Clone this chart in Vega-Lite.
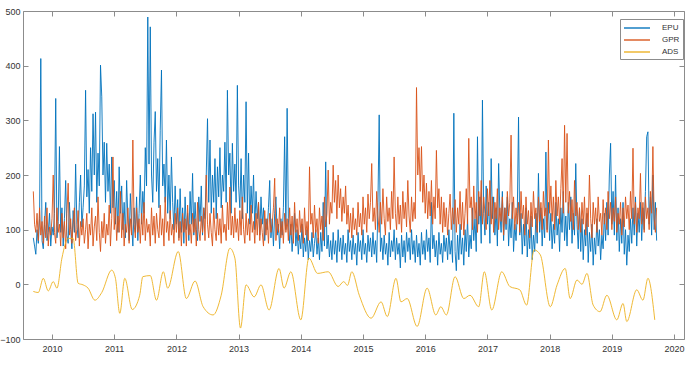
{
  "$schema": "https://vega.github.io/schema/vega-lite/v6.json",
  "autosize": "none",
  "width": 661,
  "height": 328,
  "padding": {"left": 23, "top": 11, "right": 13, "bottom": 26},
  "background": "white",
  "config": {
    "view": {"stroke": "#8c8c8c", "strokeWidth": 1},
    "font": "Liberation Sans",
    "axis": {"domain": false, "grid": false, "tickColor": "#8c8c8c", "tickSize": -5, "labelFont": "Liberation Sans", "labelFontSize": 9, "labelColor": "#333333", "title": null}
  },
  "datasets": {
    "idx": [
      {"t":2009.70,"EPU":85,"GPR":170},{"t":2009.72,"EPU":70,"GPR":110},{"t":2009.74,"EPU":55,"GPR":95},{"t":2009.76,"EPU":100,"GPR":130},{"t":2009.78,"EPU":75,"GPR":80},
      {"t":2009.80,"EPU":120,"GPR":140},{"t":2009.82,"EPU":413,"GPR":90},{"t":2009.84,"EPU":80,"GPR":115},{"t":2009.86,"EPU":65,"GPR":75},{"t":2009.88,"EPU":110,"GPR":125},
      {"t":2009.90,"EPU":150,"GPR":85},{"t":2009.92,"EPU":80,"GPR":140},{"t":2009.94,"EPU":95,"GPR":70},{"t":2009.96,"EPU":130,"GPR":105},{"t":2009.98,"EPU":70,"GPR":90},
      {"t":2010.00,"EPU":105,"GPR":120},{"t":2010.02,"EPU":90,"GPR":200},{"t":2010.04,"EPU":130,"GPR":95},{"t":2010.06,"EPU":340,"GPR":75},{"t":2010.08,"EPU":85,"GPR":140},
      {"t":2010.10,"EPU":115,"GPR":95},{"t":2010.12,"EPU":252,"GPR":110},{"t":2010.14,"EPU":95,"GPR":70},{"t":2010.16,"EPU":140,"GPR":130},{"t":2010.18,"EPU":70,"GPR":85},
      {"t":2010.20,"EPU":120,"GPR":115},{"t":2010.22,"EPU":190,"GPR":65},{"t":2010.24,"EPU":90,"GPR":130},{"t":2010.26,"EPU":75,"GPR":185},{"t":2010.28,"EPU":150,"GPR":90},
      {"t":2010.30,"EPU":100,"GPR":120},{"t":2010.32,"EPU":65,"GPR":75},{"t":2010.34,"EPU":135,"GPR":110},{"t":2010.36,"EPU":95,"GPR":140},{"t":2010.38,"EPU":220,"GPR":80},
      {"t":2010.40,"EPU":110,"GPR":100},{"t":2010.42,"EPU":85,"GPR":135},{"t":2010.44,"EPU":150,"GPR":70},{"t":2010.46,"EPU":200,"GPR":115},{"t":2010.48,"EPU":105,"GPR":90},
      {"t":2010.50,"EPU":140,"GPR":120},{"t":2010.52,"EPU":180,"GPR":75},{"t":2010.54,"EPU":355,"GPR":100},{"t":2010.56,"EPU":160,"GPR":130},{"t":2010.58,"EPU":210,"GPR":65},
      {"t":2010.60,"EPU":130,"GPR":110},{"t":2010.62,"EPU":250,"GPR":90},{"t":2010.64,"EPU":170,"GPR":140},{"t":2010.66,"EPU":312,"GPR":70},{"t":2010.68,"EPU":200,"GPR":105},
      {"t":2010.70,"EPU":315,"GPR":125},{"t":2010.72,"EPU":150,"GPR":80},{"t":2010.74,"EPU":240,"GPR":160},{"t":2010.76,"EPU":180,"GPR":95},{"t":2010.78,"EPU":401,"GPR":60},
      {"t":2010.80,"EPU":343,"GPR":115},{"t":2010.82,"EPU":200,"GPR":85},{"t":2010.84,"EPU":260,"GPR":130},{"t":2010.86,"EPU":150,"GPR":75},{"t":2010.88,"EPU":258,"GPR":110},
      {"t":2010.90,"EPU":170,"GPR":90},{"t":2010.92,"EPU":220,"GPR":145},{"t":2010.94,"EPU":130,"GPR":70},{"t":2010.96,"EPU":233,"GPR":120},{"t":2010.98,"EPU":140,"GPR":233},
      {"t":2011.00,"EPU":190,"GPR":100},{"t":2011.02,"EPU":110,"GPR":140},{"t":2011.04,"EPU":170,"GPR":80},{"t":2011.06,"EPU":95,"GPR":125},{"t":2011.08,"EPU":215,"GPR":95},
      {"t":2011.10,"EPU":130,"GPR":170},{"t":2011.12,"EPU":180,"GPR":85},{"t":2011.14,"EPU":100,"GPR":130},{"t":2011.16,"EPU":150,"GPR":70},{"t":2011.18,"EPU":85,"GPR":110},
      {"t":2011.20,"EPU":190,"GPR":95},{"t":2011.22,"EPU":120,"GPR":140},{"t":2011.24,"EPU":80,"GPR":75},{"t":2011.26,"EPU":166,"GPR":120},{"t":2011.28,"EPU":110,"GPR":90},
      {"t":2011.30,"EPU":70,"GPR":264},{"t":2011.32,"EPU":140,"GPR":110},{"t":2011.34,"EPU":95,"GPR":85},{"t":2011.36,"EPU":160,"GPR":140},{"t":2011.38,"EPU":80,"GPR":95},
      {"t":2011.40,"EPU":130,"GPR":120},{"t":2011.42,"EPU":200,"GPR":75},{"t":2011.44,"EPU":110,"GPR":130},{"t":2011.46,"EPU":170,"GPR":90},{"t":2011.48,"EPU":130,"GPR":150},
      {"t":2011.50,"EPU":250,"GPR":80},{"t":2011.52,"EPU":180,"GPR":120},{"t":2011.54,"EPU":489,"GPR":95},{"t":2011.56,"EPU":220,"GPR":110},{"t":2011.58,"EPU":471,"GPR":70},
      {"t":2011.60,"EPU":200,"GPR":140},{"t":2011.62,"EPU":150,"GPR":90},{"t":2011.64,"EPU":260,"GPR":125},{"t":2011.66,"EPU":316,"GPR":75},{"t":2011.68,"EPU":170,"GPR":130},
      {"t":2011.70,"EPU":230,"GPR":100},{"t":2011.72,"EPU":140,"GPR":85},{"t":2011.74,"EPU":282,"GPR":145},{"t":2011.76,"EPU":392,"GPR":90},{"t":2011.78,"EPU":180,"GPR":120},
      {"t":2011.80,"EPU":220,"GPR":70},{"t":2011.82,"EPU":150,"GPR":160},{"t":2011.84,"EPU":264,"GPR":95},{"t":2011.86,"EPU":130,"GPR":115},{"t":2011.88,"EPU":200,"GPR":80},
      {"t":2011.90,"EPU":120,"GPR":135},{"t":2011.92,"EPU":233,"GPR":90},{"t":2011.94,"EPU":150,"GPR":110},{"t":2011.96,"EPU":100,"GPR":75},{"t":2011.98,"EPU":180,"GPR":130},
      {"t":2012.00,"EPU":110,"GPR":95},{"t":2012.02,"EPU":155,"GPR":140},{"t":2012.04,"EPU":85,"GPR":80},{"t":2012.06,"EPU":175,"GPR":115},{"t":2012.08,"EPU":95,"GPR":70},
      {"t":2012.10,"EPU":140,"GPR":130},{"t":2012.12,"EPU":75,"GPR":95},{"t":2012.14,"EPU":160,"GPR":120},{"t":2012.16,"EPU":100,"GPR":70},{"t":2012.18,"EPU":130,"GPR":145},
      {"t":2012.20,"EPU":80,"GPR":90},{"t":2012.22,"EPU":170,"GPR":110},{"t":2012.24,"EPU":110,"GPR":75},{"t":2012.26,"EPU":203,"GPR":130},{"t":2012.28,"EPU":90,"GPR":95},
      {"t":2012.30,"EPU":150,"GPR":120},{"t":2012.32,"EPU":100,"GPR":70},{"t":2012.34,"EPU":80,"GPR":150},{"t":2012.36,"EPU":160,"GPR":100},{"t":2012.38,"EPU":115,"GPR":80},
      {"t":2012.40,"EPU":180,"GPR":125},{"t":2012.42,"EPU":90,"GPR":95},{"t":2012.44,"EPU":140,"GPR":140},{"t":2012.46,"EPU":120,"GPR":80},{"t":2012.48,"EPU":200,"GPR":200},
      {"t":2012.50,"EPU":303,"GPR":110},{"t":2012.52,"EPU":150,"GPR":85},{"t":2012.54,"EPU":264,"GPR":130},{"t":2012.56,"EPU":130,"GPR":95},{"t":2012.58,"EPU":200,"GPR":70},
      {"t":2012.60,"EPU":150,"GPR":140},{"t":2012.62,"EPU":230,"GPR":100},{"t":2012.64,"EPU":120,"GPR":80},{"t":2012.66,"EPU":215,"GPR":130},{"t":2012.68,"EPU":160,"GPR":90},
      {"t":2012.70,"EPU":250,"GPR":120},{"t":2012.72,"EPU":140,"GPR":75},{"t":2012.74,"EPU":200,"GPR":145},{"t":2012.76,"EPU":170,"GPR":95},{"t":2012.78,"EPU":260,"GPR":110},
      {"t":2012.80,"EPU":150,"GPR":80},{"t":2012.82,"EPU":355,"GPR":150},{"t":2012.84,"EPU":200,"GPR":100},{"t":2012.86,"EPU":240,"GPR":178},{"t":2012.88,"EPU":130,"GPR":90},
      {"t":2012.90,"EPU":258,"GPR":125},{"t":2012.92,"EPU":170,"GPR":85},{"t":2012.94,"EPU":220,"GPR":140},{"t":2012.96,"EPU":150,"GPR":95},{"t":2012.98,"EPU":364,"GPR":120},
      {"t":2013.00,"EPU":180,"GPR":80},{"t":2013.02,"EPU":140,"GPR":135},{"t":2013.04,"EPU":230,"GPR":90},{"t":2013.06,"EPU":120,"GPR":160},{"t":2013.08,"EPU":200,"GPR":100},
      {"t":2013.10,"EPU":150,"GPR":75},{"t":2013.12,"EPU":334,"GPR":130},{"t":2013.14,"EPU":130,"GPR":90},{"t":2013.16,"EPU":240,"GPR":120},{"t":2013.18,"EPU":110,"GPR":80},
      {"t":2013.20,"EPU":180,"GPR":145},{"t":2013.22,"EPU":130,"GPR":95},{"t":2013.24,"EPU":200,"GPR":115},{"t":2013.26,"EPU":100,"GPR":75},{"t":2013.28,"EPU":170,"GPR":130},
      {"t":2013.30,"EPU":120,"GPR":90},{"t":2013.32,"EPU":150,"GPR":150},{"t":2013.34,"EPU":90,"GPR":80},{"t":2013.36,"EPU":160,"GPR":120},{"t":2013.38,"EPU":110,"GPR":95},
      {"t":2013.40,"EPU":140,"GPR":70},{"t":2013.42,"EPU":80,"GPR":135},{"t":2013.44,"EPU":120,"GPR":90},{"t":2013.46,"EPU":100,"GPR":120},{"t":2013.48,"EPU":140,"GPR":75},
      {"t":2013.50,"EPU":190,"GPR":130},{"t":2013.52,"EPU":85,"GPR":95},{"t":2013.54,"EPU":120,"GPR":110},{"t":2013.56,"EPU":70,"GPR":140},{"t":2013.58,"EPU":130,"GPR":194},
      {"t":2013.60,"EPU":160,"GPR":80},{"t":2013.62,"EPU":90,"GPR":120},{"t":2013.64,"EPU":110,"GPR":95},{"t":2013.66,"EPU":65,"GPR":140},{"t":2013.68,"EPU":120,"GPR":85},
      {"t":2013.70,"EPU":90,"GPR":115},{"t":2013.72,"EPU":140,"GPR":75},{"t":2013.74,"EPU":270,"GPR":130},{"t":2013.76,"EPU":100,"GPR":95},{"t":2013.78,"EPU":322,"GPR":120},
      {"t":2013.80,"EPU":120,"GPR":80},{"t":2013.82,"EPU":75,"GPR":140},{"t":2013.84,"EPU":110,"GPR":90},{"t":2013.86,"EPU":60,"GPR":125},{"t":2013.88,"EPU":95,"GPR":75},
      {"t":2013.90,"EPU":130,"GPR":150},{"t":2013.92,"EPU":70,"GPR":95},{"t":2013.94,"EPU":100,"GPR":120},{"t":2013.96,"EPU":55,"GPR":80},{"t":2013.98,"EPU":90,"GPR":135},
      {"t":2014.00,"EPU":65,"GPR":95},{"t":2014.02,"EPU":110,"GPR":120},{"t":2014.04,"EPU":50,"GPR":75},{"t":2014.06,"EPU":85,"GPR":140},{"t":2014.08,"EPU":60,"GPR":90},
      {"t":2014.10,"EPU":100,"GPR":115},{"t":2014.12,"EPU":45,"GPR":80},{"t":2014.14,"EPU":80,"GPR":215},{"t":2014.16,"EPU":60,"GPR":110},{"t":2014.18,"EPU":95,"GPR":130},
      {"t":2014.20,"EPU":50,"GPR":85},{"t":2014.22,"EPU":75,"GPR":145},{"t":2014.24,"EPU":100,"GPR":95},{"t":2014.26,"EPU":55,"GPR":120},{"t":2014.28,"EPU":85,"GPR":75},
      {"t":2014.30,"EPU":45,"GPR":140},{"t":2014.32,"EPU":95,"GPR":100},{"t":2014.34,"EPU":60,"GPR":125},{"t":2014.36,"EPU":150,"GPR":80},{"t":2014.38,"EPU":70,"GPR":160},
      {"t":2014.40,"EPU":224,"GPR":105},{"t":2014.42,"EPU":65,"GPR":130},{"t":2014.44,"EPU":90,"GPR":209},{"t":2014.46,"EPU":50,"GPR":110},{"t":2014.48,"EPU":80,"GPR":150},
      {"t":2014.50,"EPU":45,"GPR":130},{"t":2014.52,"EPU":95,"GPR":218},{"t":2014.54,"EPU":55,"GPR":150},{"t":2014.56,"EPU":80,"GPR":190},{"t":2014.58,"EPU":40,"GPR":120},
      {"t":2014.60,"EPU":100,"GPR":200},{"t":2014.62,"EPU":60,"GPR":140},{"t":2014.64,"EPU":85,"GPR":175},{"t":2014.66,"EPU":45,"GPR":115},{"t":2014.68,"EPU":90,"GPR":160},
      {"t":2014.70,"EPU":55,"GPR":130},{"t":2014.72,"EPU":75,"GPR":180},{"t":2014.74,"EPU":40,"GPR":110},{"t":2014.76,"EPU":100,"GPR":145},{"t":2014.78,"EPU":60,"GPR":95},
      {"t":2014.80,"EPU":80,"GPR":130},{"t":2014.82,"EPU":45,"GPR":85},{"t":2014.84,"EPU":90,"GPR":140},{"t":2014.86,"EPU":55,"GPR":100},{"t":2014.88,"EPU":75,"GPR":120},
      {"t":2014.90,"EPU":35,"GPR":90},{"t":2014.92,"EPU":95,"GPR":150},{"t":2014.94,"EPU":60,"GPR":105},{"t":2014.96,"EPU":80,"GPR":130},{"t":2014.98,"EPU":45,"GPR":90},
      {"t":2015.00,"EPU":100,"GPR":160},{"t":2015.02,"EPU":55,"GPR":110},{"t":2015.04,"EPU":75,"GPR":140},{"t":2015.06,"EPU":40,"GPR":95},{"t":2015.08,"EPU":90,"GPR":165},
      {"t":2015.10,"EPU":60,"GPR":120},{"t":2015.12,"EPU":85,"GPR":150},{"t":2015.14,"EPU":50,"GPR":221},{"t":2015.16,"EPU":95,"GPR":115},{"t":2015.18,"EPU":55,"GPR":140},
      {"t":2015.20,"EPU":80,"GPR":100},{"t":2015.22,"EPU":40,"GPR":170},{"t":2015.24,"EPU":150,"GPR":125},{"t":2015.26,"EPU":310,"GPR":95},{"t":2015.28,"EPU":60,"GPR":150},
      {"t":2015.30,"EPU":85,"GPR":110},{"t":2015.32,"EPU":45,"GPR":175},{"t":2015.34,"EPU":90,"GPR":120},{"t":2015.36,"EPU":55,"GPR":90},{"t":2015.38,"EPU":75,"GPR":160},
      {"t":2015.40,"EPU":35,"GPR":115},{"t":2015.42,"EPU":95,"GPR":140},{"t":2015.44,"EPU":50,"GPR":100},{"t":2015.46,"EPU":80,"GPR":170},{"t":2015.48,"EPU":60,"GPR":120},
      {"t":2015.50,"EPU":100,"GPR":233},{"t":2015.52,"EPU":45,"GPR":130},{"t":2015.54,"EPU":85,"GPR":100},{"t":2015.56,"EPU":55,"GPR":160},{"t":2015.58,"EPU":75,"GPR":110},
      {"t":2015.60,"EPU":30,"GPR":145},{"t":2015.62,"EPU":90,"GPR":95},{"t":2015.64,"EPU":50,"GPR":170},{"t":2015.66,"EPU":80,"GPR":120},{"t":2015.68,"EPU":40,"GPR":150},
      {"t":2015.70,"EPU":95,"GPR":105},{"t":2015.72,"EPU":60,"GPR":190},{"t":2015.74,"EPU":85,"GPR":125},{"t":2015.76,"EPU":45,"GPR":95},{"t":2015.78,"EPU":100,"GPR":160},
      {"t":2015.80,"EPU":55,"GPR":115},{"t":2015.82,"EPU":80,"GPR":150},{"t":2015.84,"EPU":40,"GPR":120},{"t":2015.86,"EPU":90,"GPR":360},{"t":2015.88,"EPU":50,"GPR":200},
      {"t":2015.90,"EPU":75,"GPR":250},{"t":2015.92,"EPU":35,"GPR":170},{"t":2015.94,"EPU":95,"GPR":252},{"t":2015.96,"EPU":55,"GPR":150},{"t":2015.98,"EPU":80,"GPR":200},
      {"t":2016.00,"EPU":45,"GPR":130},{"t":2016.02,"EPU":100,"GPR":185},{"t":2016.04,"EPU":60,"GPR":120},{"t":2016.06,"EPU":85,"GPR":170},{"t":2016.08,"EPU":40,"GPR":125},
      {"t":2016.10,"EPU":150,"GPR":190},{"t":2016.12,"EPU":65,"GPR":110},{"t":2016.14,"EPU":90,"GPR":160},{"t":2016.16,"EPU":50,"GPR":120},{"t":2016.18,"EPU":80,"GPR":245},
      {"t":2016.20,"EPU":35,"GPR":140},{"t":2016.22,"EPU":95,"GPR":175},{"t":2016.24,"EPU":55,"GPR":110},{"t":2016.26,"EPU":75,"GPR":160},{"t":2016.28,"EPU":40,"GPR":95},
      {"t":2016.30,"EPU":90,"GPR":150},{"t":2016.32,"EPU":60,"GPR":105},{"t":2016.34,"EPU":85,"GPR":140},{"t":2016.36,"EPU":45,"GPR":90},{"t":2016.38,"EPU":100,"GPR":130},
      {"t":2016.40,"EPU":55,"GPR":165},{"t":2016.42,"EPU":80,"GPR":100},{"t":2016.44,"EPU":40,"GPR":140},{"t":2016.46,"EPU":313,"GPR":110},{"t":2016.48,"EPU":60,"GPR":155},
      {"t":2016.50,"EPU":25,"GPR":95},{"t":2016.52,"EPU":90,"GPR":140},{"t":2016.54,"EPU":45,"GPR":110},{"t":2016.56,"EPU":110,"GPR":170},{"t":2016.58,"EPU":55,"GPR":100},
      {"t":2016.60,"EPU":85,"GPR":150},{"t":2016.62,"EPU":35,"GPR":90},{"t":2016.64,"EPU":100,"GPR":130},{"t":2016.66,"EPU":60,"GPR":175},{"t":2016.68,"EPU":120,"GPR":110},
      {"t":2016.70,"EPU":50,"GPR":267},{"t":2016.72,"EPU":90,"GPR":140},{"t":2016.74,"EPU":65,"GPR":160},{"t":2016.76,"EPU":140,"GPR":100},{"t":2016.78,"EPU":80,"GPR":180},
      {"t":2016.80,"EPU":120,"GPR":120},{"t":2016.82,"EPU":60,"GPR":150},{"t":2016.84,"EPU":270,"GPR":95},{"t":2016.86,"EPU":110,"GPR":170},{"t":2016.88,"EPU":160,"GPR":125},
      {"t":2016.90,"EPU":75,"GPR":190},{"t":2016.92,"EPU":337,"GPR":110},{"t":2016.94,"EPU":130,"GPR":160},{"t":2016.96,"EPU":90,"GPR":130},{"t":2016.98,"EPU":180,"GPR":100},
      {"t":2017.00,"EPU":110,"GPR":175},{"t":2017.02,"EPU":150,"GPR":125},{"t":2017.04,"EPU":75,"GPR":190},{"t":2017.06,"EPU":230,"GPR":110},{"t":2017.08,"EPU":120,"GPR":160},
      {"t":2017.10,"EPU":160,"GPR":95},{"t":2017.12,"EPU":90,"GPR":150},{"t":2017.14,"EPU":140,"GPR":120},{"t":2017.16,"EPU":70,"GPR":175},{"t":2017.18,"EPU":221,"GPR":100},
      {"t":2017.20,"EPU":130,"GPR":140},{"t":2017.22,"EPU":95,"GPR":115},{"t":2017.24,"EPU":170,"GPR":160},{"t":2017.26,"EPU":80,"GPR":90},{"t":2017.28,"EPU":140,"GPR":140},
      {"t":2017.30,"EPU":100,"GPR":110},{"t":2017.32,"EPU":160,"GPR":170},{"t":2017.34,"EPU":70,"GPR":125},{"t":2017.36,"EPU":120,"GPR":150},{"t":2017.38,"EPU":85,"GPR":273},
      {"t":2017.40,"EPU":150,"GPR":120},{"t":2017.42,"EPU":60,"GPR":160},{"t":2017.44,"EPU":110,"GPR":100},{"t":2017.46,"EPU":80,"GPR":140},{"t":2017.48,"EPU":130,"GPR":110},
      {"t":2017.50,"EPU":306,"GPR":150},{"t":2017.52,"EPU":90,"GPR":95},{"t":2017.54,"EPU":130,"GPR":170},{"t":2017.56,"EPU":55,"GPR":120},{"t":2017.58,"EPU":110,"GPR":145},
      {"t":2017.60,"EPU":70,"GPR":90},{"t":2017.62,"EPU":140,"GPR":160},{"t":2017.64,"EPU":50,"GPR":110},{"t":2017.66,"EPU":100,"GPR":135},{"t":2017.68,"EPU":65,"GPR":85},
      {"t":2017.70,"EPU":125,"GPR":150},{"t":2017.72,"EPU":45,"GPR":105},{"t":2017.74,"EPU":90,"GPR":170},{"t":2017.76,"EPU":60,"GPR":120},{"t":2017.78,"EPU":130,"GPR":140},
      {"t":2017.80,"EPU":75,"GPR":95},{"t":2017.82,"EPU":203,"GPR":160},{"t":2017.84,"EPU":95,"GPR":115},{"t":2017.86,"EPU":140,"GPR":150},{"t":2017.88,"EPU":70,"GPR":100},
      {"t":2017.90,"EPU":120,"GPR":170},{"t":2017.92,"EPU":85,"GPR":125},{"t":2017.94,"EPU":242,"GPR":140},{"t":2017.96,"EPU":100,"GPR":95},{"t":2017.98,"EPU":150,"GPR":264},
      {"t":2018.00,"EPU":80,"GPR":130},{"t":2018.02,"EPU":130,"GPR":180},{"t":2018.04,"EPU":65,"GPR":115},{"t":2018.06,"EPU":110,"GPR":160},{"t":2018.08,"EPU":75,"GPR":100},
      {"t":2018.10,"EPU":150,"GPR":190},{"t":2018.12,"EPU":90,"GPR":125},{"t":2018.14,"EPU":120,"GPR":160},{"t":2018.16,"EPU":60,"GPR":110},{"t":2018.18,"EPU":140,"GPR":175},
      {"t":2018.20,"EPU":95,"GPR":230},{"t":2018.22,"EPU":170,"GPR":130},{"t":2018.24,"EPU":80,"GPR":291},{"t":2018.26,"EPU":125,"GPR":150},{"t":2018.28,"EPU":70,"GPR":276},
      {"t":2018.30,"EPU":150,"GPR":130},{"t":2018.32,"EPU":100,"GPR":170},{"t":2018.34,"EPU":160,"GPR":115},{"t":2018.36,"EPU":75,"GPR":155},{"t":2018.38,"EPU":130,"GPR":100},
      {"t":2018.40,"EPU":90,"GPR":190},{"t":2018.42,"EPU":221,"GPR":125},{"t":2018.44,"EPU":110,"GPR":150},{"t":2018.46,"EPU":65,"GPR":100},{"t":2018.48,"EPU":140,"GPR":140},
      {"t":2018.50,"EPU":60,"GPR":95},{"t":2018.52,"EPU":120,"GPR":150},{"t":2018.54,"EPU":45,"GPR":110},{"t":2018.56,"EPU":100,"GPR":160},{"t":2018.58,"EPU":70,"GPR":90},
      {"t":2018.60,"EPU":130,"GPR":140},{"t":2018.62,"EPU":40,"GPR":105},{"t":2018.64,"EPU":95,"GPR":200},{"t":2018.66,"EPU":60,"GPR":120},{"t":2018.68,"EPU":110,"GPR":85},
      {"t":2018.70,"EPU":35,"GPR":150},{"t":2018.72,"EPU":85,"GPR":110},{"t":2018.74,"EPU":55,"GPR":140},{"t":2018.76,"EPU":120,"GPR":95},{"t":2018.78,"EPU":70,"GPR":160},
      {"t":2018.80,"EPU":100,"GPR":115},{"t":2018.82,"EPU":45,"GPR":130},{"t":2018.84,"EPU":90,"GPR":90},{"t":2018.86,"EPU":65,"GPR":155},{"t":2018.88,"EPU":130,"GPR":110},
      {"t":2018.90,"EPU":80,"GPR":140},{"t":2018.92,"EPU":150,"GPR":100},{"t":2018.94,"EPU":90,"GPR":170},{"t":2018.96,"EPU":200,"GPR":120},{"t":2018.98,"EPU":258,"GPR":150},
      {"t":2019.00,"EPU":110,"GPR":100},{"t":2019.02,"EPU":170,"GPR":140},{"t":2019.04,"EPU":90,"GPR":115},{"t":2019.06,"EPU":200,"GPR":160},{"t":2019.08,"EPU":80,"GPR":95},
      {"t":2019.10,"EPU":140,"GPR":130},{"t":2019.12,"EPU":60,"GPR":110},{"t":2019.14,"EPU":120,"GPR":150},{"t":2019.16,"EPU":75,"GPR":90},{"t":2019.18,"EPU":150,"GPR":140},
      {"t":2019.20,"EPU":55,"GPR":105},{"t":2019.22,"EPU":100,"GPR":160},{"t":2019.24,"EPU":35,"GPR":120},{"t":2019.26,"EPU":90,"GPR":145},{"t":2019.28,"EPU":60,"GPR":100},
      {"t":2019.30,"EPU":120,"GPR":170},{"t":2019.32,"EPU":75,"GPR":120},{"t":2019.34,"EPU":140,"GPR":249},{"t":2019.36,"EPU":90,"GPR":110},{"t":2019.38,"EPU":160,"GPR":150},
      {"t":2019.40,"EPU":70,"GPR":95},{"t":2019.42,"EPU":130,"GPR":140},{"t":2019.44,"EPU":95,"GPR":120},{"t":2019.46,"EPU":150,"GPR":203},{"t":2019.48,"EPU":80,"GPR":110},
      {"t":2019.50,"EPU":140,"GPR":150},{"t":2019.52,"EPU":100,"GPR":95},{"t":2019.54,"EPU":170,"GPR":160},{"t":2019.56,"EPU":270,"GPR":120},{"t":2019.58,"EPU":279,"GPR":140},
      {"t":2019.60,"EPU":110,"GPR":100},{"t":2019.62,"EPU":160,"GPR":170},{"t":2019.64,"EPU":90,"GPR":130},{"t":2019.66,"EPU":200,"GPR":252},{"t":2019.68,"EPU":100,"GPR":120},
      {"t":2019.70,"EPU":150,"GPR":95},{"t":2019.72,"EPU":80,"GPR":140}
    ],
    "ads": [
      {"t":2009.70,"ADS":-13},{"t":2009.78,"ADS":-15},{"t":2009.86,"ADS":11},{"t":2009.94,"ADS":-12},{"t":2010.02,"ADS":5},{"t":2010.08,"ADS":-7},
      {"t":2010.16,"ADS":48},{"t":2010.26,"ADS":84},{"t":2010.34,"ADS":84},{"t":2010.42,"ADS":2},{"t":2010.50,"ADS":-1},{"t":2010.58,"ADS":-7},
      {"t":2010.69,"ADS":-29},{"t":2010.80,"ADS":-15},{"t":2010.96,"ADS":26},{"t":2011.02,"ADS":11},{"t":2011.09,"ADS":-53},{"t":2011.17,"ADS":11},
      {"t":2011.29,"ADS":-46},{"t":2011.41,"ADS":-20},{"t":2011.46,"ADS":14},{"t":2011.58,"ADS":16},{"t":2011.68,"ADS":-29},{"t":2011.79,"ADS":23},
      {"t":2011.86,"ADS":-7},{"t":2012.03,"ADS":60},{"t":2012.16,"ADS":-26},{"t":2012.30,"ADS":6},{"t":2012.43,"ADS":-41},{"t":2012.59,"ADS":-56},
      {"t":2012.72,"ADS":-20},{"t":2012.86,"ADS":66},{"t":2012.94,"ADS":48},{"t":2013.03,"ADS":-80},{"t":2013.12,"ADS":-1},{"t":2013.25,"ADS":-23},
      {"t":2013.36,"ADS":-1},{"t":2013.49,"ADS":-47},{"t":2013.65,"ADS":29},{"t":2013.73,"ADS":-7},{"t":2013.84,"ADS":23},{"t":2014.00,"ADS":-65},
      {"t":2014.13,"ADS":48},{"t":2014.27,"ADS":20},{"t":2014.44,"ADS":23},{"t":2014.60,"ADS":-4},{"t":2014.69,"ADS":5},{"t":2014.75,"ADS":-2},
      {"t":2014.82,"ADS":23},{"t":2014.94,"ADS":-20},{"t":2015.13,"ADS":-62},{"t":2015.29,"ADS":-32},{"t":2015.39,"ADS":-59},{"t":2015.53,"ADS":11},
      {"t":2015.61,"ADS":-32},{"t":2015.71,"ADS":-26},{"t":2015.87,"ADS":-77},{"t":2016.03,"ADS":-7},{"t":2016.17,"ADS":-56},{"t":2016.25,"ADS":-41},
      {"t":2016.34,"ADS":-56},{"t":2016.48,"ADS":14},{"t":2016.62,"ADS":-26},{"t":2016.72,"ADS":-20},{"t":2016.86,"ADS":-41},{"t":2016.95,"ADS":23},
      {"t":2017.07,"ADS":-47},{"t":2017.23,"ADS":23},{"t":2017.36,"ADS":-4},{"t":2017.52,"ADS":-10},{"t":2017.63,"ADS":-38},{"t":2017.75,"ADS":63},
      {"t":2017.85,"ADS":54},{"t":2018.01,"ADS":-41},{"t":2018.12,"ADS":-1},{"t":2018.25,"ADS":29},{"t":2018.33,"ADS":-26},{"t":2018.44,"ADS":8},
      {"t":2018.52,"ADS":0},{"t":2018.60,"ADS":20},{"t":2018.70,"ADS":-38},{"t":2018.81,"ADS":-50},{"t":2018.92,"ADS":-20},{"t":2019.08,"ADS":-65},
      {"t":2019.18,"ADS":-35},{"t":2019.24,"ADS":-68},{"t":2019.40,"ADS":-10},{"t":2019.50,"ADS":-29},{"t":2019.58,"ADS":11},{"t":2019.69,"ADS":-65}
    ]
  },
  "layer": [
    {
      "data": {"name": "idx"},
      "transform": [{"fold": ["EPU", "GPR"], "as": ["series", "value"]}],
      "mark": {"type": "line", "strokeWidth": 1, "opacity": 0.9, "clip": true},
      "encoding": {
        "x": {"field": "t", "type": "quantitative", "scale": {"domain": [2009.534, 2020.16], "nice": false, "zero": false},
              "axis": {"orient": "bottom", "values": [2010,2011,2012,2013,2014,2015,2016,2017,2018,2019,2020], "format": "d", "labelPadding": 10}},
        "y": {"field": "value", "type": "quantitative", "scale": {"domain": [-100, 500], "nice": false},
              "axis": {"orient": "left", "values": [-100,0,100,200,300,400,500], "labelPadding": 8}},
        "color": {"field": "series", "type": "nominal",
                  "scale": {"domain": ["EPU", "GPR", "ADS"], "range": ["#0072BD", "#D95319", "#EDB120"]},
                  "legend": {"orient": "none", "legendX": 597, "legendY": 8, "title": null, "symbolType": "M-2.6,0H2.6", "symbolSize": 100, "symbolStrokeWidth": 1.5,
                             "symbolOffset": 8, "symbolFillColor": "transparent",
                             "labelFontSize": 8, "labelFont": "Liberation Sans", "labelColor": "#333333", "labelOffset": 19, "rowPadding": 2, "padding": 3,
                             "strokeColor": "#8c8c8c", "fillColor": "white", "cornerRadius": 0, "symbolOpacity": 0.6}}
      }
    },
    {
      "data": {"name": "ads"},
      "transform": [{"fold": ["ADS"], "as": ["series", "value"]}],
      "mark": {"type": "line", "strokeWidth": 1, "opacity": 0.9, "interpolate": "monotone", "clip": true},
      "encoding": {
        "x": {"field": "t", "type": "quantitative",
              "axis": {"orient": "top", "values": [2010,2011,2012,2013,2014,2015,2016,2017,2018,2019,2020], "labels": false}},
        "y": {"field": "value", "type": "quantitative",
              "axis": {"orient": "right", "values": [-100,0,100,200,300,400,500], "labels": false}},
        "color": {"field": "series", "type": "nominal"}
      }
    }
  ],
  "resolve": {"axis": {"x": "independent", "y": "independent"}}
}
